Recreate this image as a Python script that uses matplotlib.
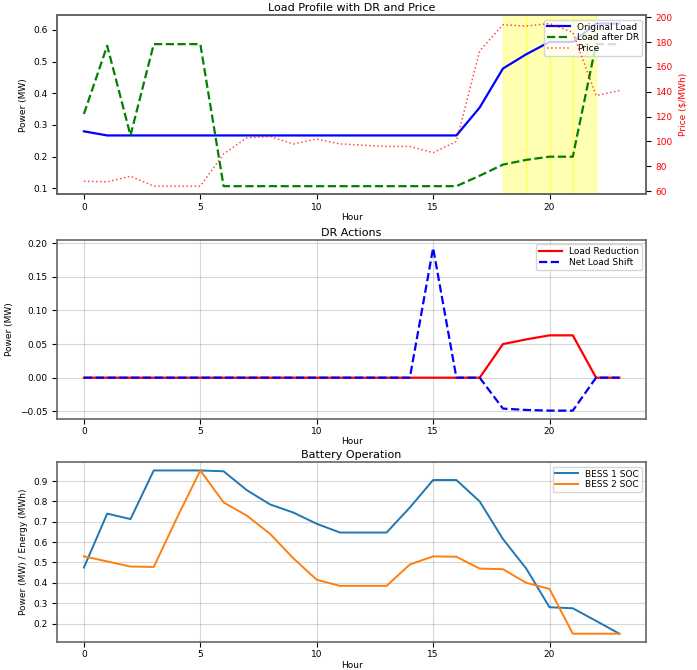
import numpy as np
import matplotlib
matplotlib.use("Agg")
import matplotlib.pyplot as plt

hours = np.arange(24)

# load profile (MW)
original_load = [0.28, 0.267, 0.267, 0.267, 0.267, 0.267, 0.267, 0.267, 0.267, 0.267,
                 0.267, 0.267, 0.267, 0.267, 0.267, 0.267, 0.267, 0.355, 0.478, 0.523,
                 0.562, 0.562, 0.62, 0.62]
load_after_dr = [0.335, 0.55, 0.267, 0.555, 0.555, 0.555, 0.107, 0.107, 0.107, 0.107,
                 0.107, 0.107, 0.107, 0.107, 0.107, 0.107, 0.107, 0.14, 0.175, 0.19,
                 0.2, 0.2, 0.555, 0.555]
price = [68, 67.5, 72, 64, 64, 64, 90, 103, 104, 98, 102, 98, 97, 96, 96, 91, 100,
         173, 194, 193, 195, 188, 137, 141]
peak_hours = [18, 19, 20, 21]

# DR actions (MW)
load_reduction = [0] * 18 + [0.05, 0.057, 0.063, 0.063, 0, 0]
net_load_shift = [0] * 15 + [0.193, 0, 0, -0.046, -0.048, -0.049, -0.049, 0, 0]

# battery SOC
bess1_soc = [0.475, 0.74, 0.713, 0.952, 0.952, 0.952, 0.948, 0.855, 0.785, 0.745,
             0.69, 0.647, 0.647, 0.647, 0.77, 0.905, 0.905, 0.8, 0.615, 0.47,
             0.28, 0.275, 0.213, 0.15]
bess2_soc = [0.53, 0.505, 0.48, 0.478, 0.72, 0.952, 0.795, 0.73, 0.64, 0.52,
             0.415, 0.385, 0.385, 0.385, 0.49, 0.53, 0.528, 0.47, 0.467, 0.4,
             0.37, 0.15, 0.15, 0.15]

plt.rcParams['font.size'] = 6.5
plt.rcParams['axes.edgecolor'] = '#666666'
plt.rcParams['axes.linewidth'] = 1.2
plt.rcParams['xtick.major.pad'] = 2.5

fig = plt.figure(figsize=(6.97, 6.70), dpi=100)
ax1 = fig.add_axes([0.082, 0.710, 0.845, 0.267])
ax2 = fig.add_axes([0.082, 0.375, 0.845, 0.267])
ax3 = fig.add_axes([0.082, 0.042, 0.845, 0.268])

# --- load profile
for h in peak_hours:
    ax1.axvspan(h, h + 1, color='yellow', alpha=0.3)
l1, = ax1.plot(hours, original_load, 'b-', lw=1.6, label='Original Load')
l2, = ax1.plot(hours, load_after_dr, 'g--', lw=1.6, label='Load after DR')
ax1.set_xlabel('Hour', labelpad=1)
ax1.set_ylabel('Power (MW)', labelpad=4)
ax1.set_title('Load Profile with DR and Price', fontsize=8, pad=3)
ax1b = ax1.twinx()
l3, = ax1b.plot(hours, price, 'r:', lw=1.1, alpha=0.7, label='Price')
ax1b.set_ylabel('Price ($/MWh)', color='r', labelpad=4)
ax1b.tick_params(axis='y', labelcolor='r')
ax1.legend([l1, l2, l3], [l.get_label() for l in (l1, l2, l3)], loc='upper right',
           fontsize=6.5, borderpad=0.3, labelspacing=0.2, handlelength=2.5)

# --- DR actions
ax2.plot(hours, load_reduction, 'r-', lw=1.6, label='Load Reduction')
ax2.plot(hours, net_load_shift, 'b--', lw=1.6, label='Net Load Shift')
ax2.set_xlabel('Hour', labelpad=1)
ax2.set_ylabel('Power (MW)', labelpad=4)
ax2.set_title('DR Actions', fontsize=8, pad=3)
ax2.grid(True, alpha=0.5)
ax2.legend(loc='upper right', fontsize=6.5, borderpad=0.3, labelspacing=0.2, handlelength=2.5)

# --- battery
ax3.plot(hours, bess1_soc, lw=1.4, label='BESS 1 SOC')
ax3.plot(hours, bess2_soc, lw=1.4, label='BESS 2 SOC')
ax3.set_xlabel('Hour', labelpad=1)
ax3.set_ylabel('Power (MW) / Energy (MWh)', labelpad=4)
ax3.set_title('Battery Operation', fontsize=8, pad=3)
ax3.grid(True, alpha=0.5)
ax3.legend(loc='upper right', fontsize=6.5, borderpad=0.3, labelspacing=0.2, handlelength=2.5)

for ax in (ax1, ax2, ax3):
    ax.set_xticks([0, 5, 10, 15, 20])

fig.savefig('out.png', dpi=100)
